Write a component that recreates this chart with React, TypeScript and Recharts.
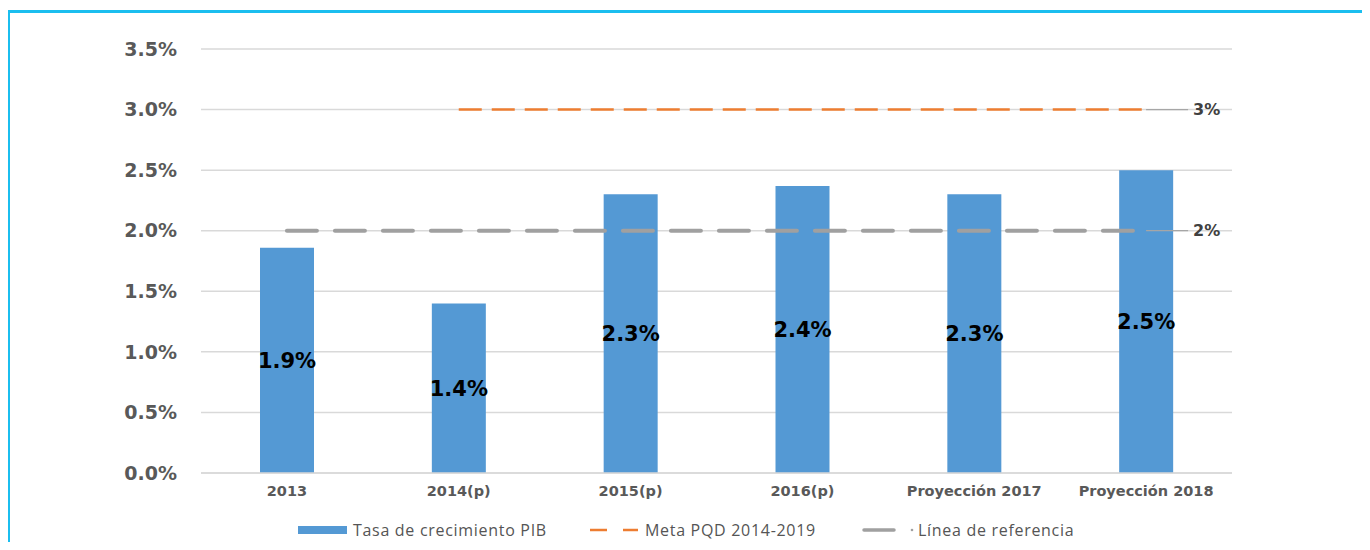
import React from 'react';
import { ComposedChart, Bar, Line, XAxis, YAxis, CartesianGrid, LabelList } from 'recharts';

// Datos del gráfico
const categories = ['2013', '2014(p)', '2015(p)', '2016(p)', 'Proyección 2017', 'Proyección 2018'];
const pibGrowth = [1.86, 1.4, 2.3, 2.37, 2.3, 2.5];
const metaPQD = [null, 3, 3, 3, 3, 3];
const referencia = [2, 2, 2, 2, 2, 2];
const yTicks = [0, 0.5, 1, 1.5, 2, 2.5, 3, 3.5];

const data = categories.map((name, i) => ({
  name,
  pib: pibGrowth[i],
  meta: metaPQD[i],
  linea: referencia[i],
}));

const lastIndex = categories.length - 1;
const axisFont = '"DejaVu Sans", Verdana, sans-serif';
const legendFont = '"Open Sans", "Noto Sans", sans-serif';

const EndLabel = (props: any) => {
  const { x, y, index, value } = props;
  if (index !== lastIndex || value == null) return null;
  return (
    <g>
      <line x1={x} y1={y} x2={x + 42} y2={y} stroke="#A6A6A6" strokeWidth={1.2} />
      <text
        x={x + 47}
        y={y}
        dy="0.36em"
        fontFamily={axisFont}
        fontWeight="bold"
        fontSize={16}
        fill="#404040"
      >
        {value}%
      </text>
    </g>
  );
};

const legendText: React.CSSProperties = {
  position: 'absolute',
  top: 519,
  fontFamily: legendFont,
  fontSize: 16,
  letterSpacing: 0.7,
  color: '#555',
  lineHeight: '22px',
  whiteSpace: 'nowrap',
};

export default function App() {
  return (
    <div style={{ position: 'relative', width: 1370, height: 550, margin: -8, overflow: 'hidden', background: '#fff' }}>
      <div
        style={{
          position: 'absolute',
          left: 7,
          top: 10,
          width: 1357,
          height: 600,
          border: '3px solid #1BBEEF',
        }}
      />
      <div style={{ position: 'absolute', left: 0, top: 0 }}>
        <ComposedChart width={1370} height={550} data={data} margin={{ top: 49, right: 138, bottom: 47, left: 0 }}>
          <CartesianGrid vertical={false} stroke="#D9D9D9" strokeWidth={1.5} />
          <XAxis
            dataKey="name"
            axisLine={{ stroke: '#D9D9D9', strokeWidth: 1.5 }}
            tickLine={false}
            tickSize={0}
            tickMargin={13}
            tick={{ fontFamily: axisFont, fontWeight: 'bold', fontSize: 14.5, fill: '#595959' }}
            interval={0}
          />
          <YAxis
            width={201}
            domain={[0, 3.5]}
            ticks={yTicks}
            axisLine={false}
            tickLine={false}
            tickSize={0}
            tickMargin={24}
            tickFormatter={(v: number) => `${v.toFixed(1)}%`}
            tick={{ fontFamily: axisFont, fontWeight: 'bold', fontSize: 19, fill: '#595959' }}
          />
          <Bar dataKey="pib" fill="#5499D4" barSize={54} isAnimationActive={false}>
            <LabelList
              dataKey="pib"
              position="center"
              formatter={(v: any) => `${Number(v).toFixed(1)}%`}
              style={{ fontFamily: axisFont, fontWeight: 'bold', fontSize: 21, fill: '#000' }}
            />
          </Bar>
          <Line
            dataKey="linea"
            stroke="#A0A0A0"
            strokeWidth={4}
            strokeDasharray="30 18"
            strokeLinecap="round"
            dot={false}
            activeDot={false}
            isAnimationActive={false}
          >
            <LabelList dataKey="linea" content={EndLabel} />
          </Line>
          <Line
            dataKey="meta"
            stroke="#ED7D31"
            strokeWidth={2.5}
            strokeDasharray="23 10"
            dot={false}
            activeDot={false}
            isAnimationActive={false}
          >
            <LabelList dataKey="meta" content={EndLabel} />
          </Line>
        </ComposedChart>
      </div>

      {/* Leyenda */}
      <svg style={{ position: 'absolute', left: 0, top: 520 }} width={1370} height={20}>
        <rect x={298} y={6} width={49} height={8} fill="#5499D4" />
        <line x1={590} y1={10} x2={607} y2={10} stroke="#ED7D31" strokeWidth={2.5} />
        <line x1={623} y1={10} x2={638} y2={10} stroke="#ED7D31" strokeWidth={2.5} />
        <line x1={864} y1={10} x2={894} y2={10} stroke="#A0A0A0" strokeWidth={3.5} strokeLinecap="round" />
        <circle cx={912} cy={10} r={1.3} fill="#A0A0A0" />
      </svg>
      <div style={{ ...legendText, left: 353 }}>Tasa de crecimiento PIB</div>
      <div style={{ ...legendText, left: 645 }}>Meta PQD 2014-2019</div>
      <div style={{ ...legendText, left: 918 }}>Línea de referencia</div>
    </div>
  );
}
